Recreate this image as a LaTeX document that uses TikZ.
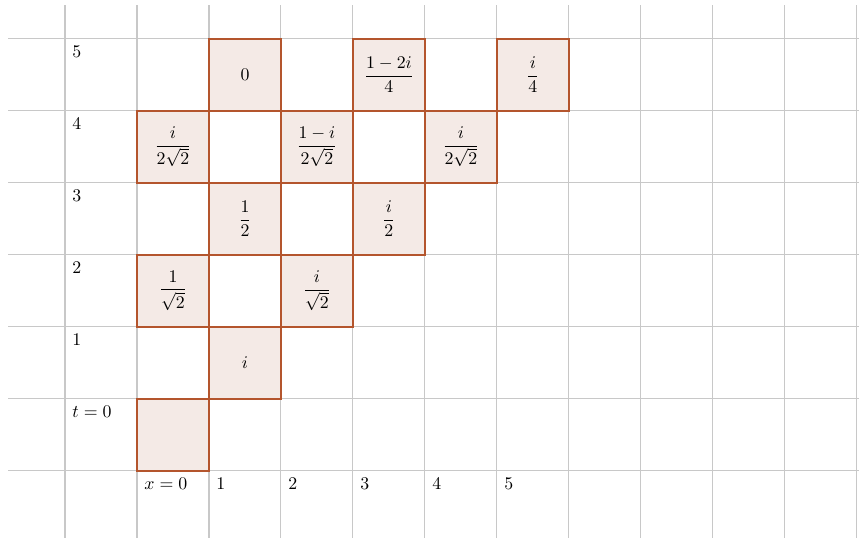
\documentclass[tikz,border=0pt]{standalone}
\usepackage{amsmath}
\usetikzlibrary{positioning}
\definecolor{cline}{HTML}{B4552D}
\definecolor{cfill}{HTML}{F4EAE6}
\definecolor{cgrid}{HTML}{C8C8C8}
\tikzset{
  gridline/.style={draw=cgrid, line width=0.6pt},
  cell/.style={draw=cline, fill=cfill, line width=1.4pt, minimum size=1.42cm, inner sep=0pt},
  axislabel/.style={anchor=north west, inner sep=4pt},
}
\begin{document}
\begin{tikzpicture}[x=1.42cm, y=1.42cm]
  \useasboundingbox (-1.903,-0.93) rectangle (10.03,6.54);
  % background grid
  \foreach \gx in {-1,...,10} \draw[gridline] (\gx,-0.93) -- (\gx,6.47);
  \foreach \gy in {0,...,6} \draw[gridline] (-1.79,\gy) -- (10.03,\gy);
  % amplitudes
  \node[cell] (c00) at (0.5,0.5) {};
  \node[cell] (c11) at (1.5,1.5) {$i$};
  \node[cell] (c02) at (0.5,2.5) {$\dfrac{1}{\sqrt{2}}$};
  \node[cell] (c22) at (2.5,2.5) {$\dfrac{i}{\sqrt{2}}$};
  \node[cell] (c13) at (1.5,3.5) {$\dfrac{1}{2}$};
  \node[cell] (c33) at (3.5,3.5) {$\dfrac{i}{2}$};
  \node[cell] (c04) at (0.5,4.5) {$\dfrac{i}{2\sqrt{2}}$};
  \node[cell] (c24) at (2.5,4.5) {$\dfrac{1-i}{2\sqrt{2}}$};
  \node[cell] (c44) at (4.5,4.5) {$\dfrac{i}{2\sqrt{2}}$};
  \node[cell] (c15) at (1.5,5.5) {$0$};
  \node[cell] (c35) at (3.5,5.5) {$\dfrac{1-2i}{4}$};
  \node[cell] (c55) at (5.5,5.5) {$\dfrac{i}{4}$};
  % axes
  \node[axislabel] (t0) at (-1,1) {$t=0$};
  \foreach \t in {1,...,5} \node[axislabel] (t\t) at (-1,\t+1) {$\t$};
  \node[axislabel] (x0) at (0,0) {$x=0$};
  \foreach \x in {1,...,5} \node[axislabel] (x\x) at (\x,0) {$\x$};
\end{tikzpicture}
\end{document}
